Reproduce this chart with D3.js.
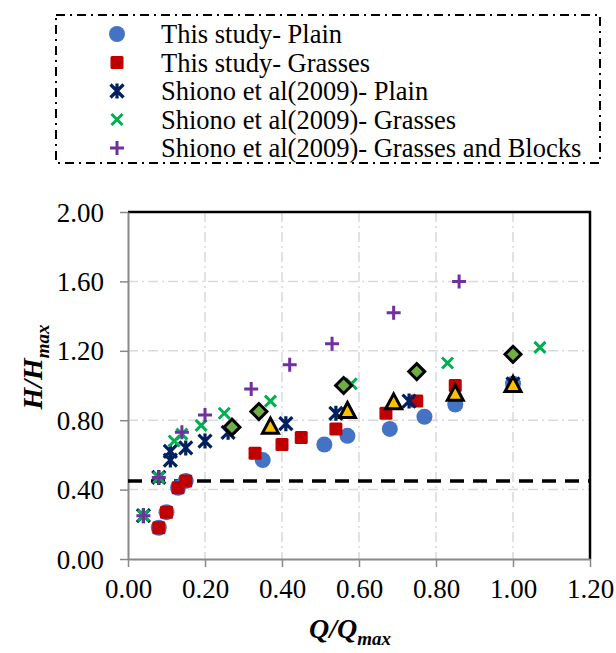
<!DOCTYPE html>
<html>
<head>
<meta charset="utf-8">
<script src="https://cdn.jsdelivr.net/npm/d3@7"></script>
<style>
  html, body { margin: 0; padding: 0; background: #fff; }
  svg { display: block; }
  svg text { font-family: "Liberation Serif", "Times New Roman", serif !important; fill: #000; }
</style>
</head>
<body>
<svg id="chart" width="616" height="653"></svg>
<script>
// Relative stage H/Hmax against relative discharge Q/Qmax
const plainX   = [0.08, 0.10, 0.13, 0.15, 0.35, 0.51, 0.57, 0.68, 0.77, 0.85, 1.00];
const plainY   = [0.18, 0.27, 0.41, 0.45, 0.57, 0.66, 0.71, 0.75, 0.82, 0.89, 1.01];

const grassX   = [0.08, 0.10, 0.13, 0.15, 0.33, 0.40, 0.45, 0.54, 0.67, 0.75, 0.85];
const grassY   = [0.18, 0.27, 0.41, 0.45, 0.61, 0.66, 0.70, 0.75, 0.84, 0.91, 1.00];

const shPlainX = [0.04, 0.08, 0.11, 0.11, 0.15, 0.20, 0.26, 0.41, 0.54, 0.73, 1.00];
const shPlainY = [0.25, 0.47, 0.57, 0.62, 0.64, 0.68, 0.73, 0.78, 0.84, 0.91, 1.01];

const shGrassX = [0.04, 0.08, 0.12, 0.14, 0.19, 0.25, 0.37, 0.58, 0.83, 1.07];
const shGrassY = [0.25, 0.47, 0.68, 0.72, 0.77, 0.84, 0.91, 1.01, 1.13, 1.22];

const shBlockX = [0.04, 0.08, 0.14, 0.20, 0.32, 0.42, 0.53, 0.69, 0.86];
const shBlockY = [0.25, 0.47, 0.73, 0.83, 0.98, 1.12, 1.24, 1.42, 1.60];

const diamondX = [0.27, 0.34, 0.56, 0.75, 1.00];
const diamondY = [0.76, 0.85, 1.00, 1.08, 1.18];

const triX     = [0.37, 0.57, 0.69, 0.85, 1.00];
const triY     = [0.76, 0.85, 0.90, 0.95, 1.00];

const thresholdY = 0.45;

const xTicks = [0.00, 0.20, 0.40, 0.60, 0.80, 1.00, 1.20];
const yTicks = [0.00, 0.40, 0.80, 1.20, 1.60, 2.00];

const legendLabels = [
  "This study- Plain",
  "This study- Grasses",
  "Shiono et al(2009)- Plain",
  "Shiono et al(2009)- Grasses",
  "Shiono et al(2009)- Grasses and Blocks"
];

const svg = d3.select("#chart");
const plotLeft = 128, plotRight = 590, plotTop = 212, plotBottom = 559;

const x = d3.scaleLinear().domain([0, 1.2]).range([plotLeft, plotRight]);
const y = d3.scaleLinear().domain([0, 2]).range([plotBottom, plotTop]);

const zip = (xs, ys) => xs.map((v, i) => [v, ys[i]]);

// gridlines
const grid = svg.append("g");
grid.selectAll("line.gx").data(xTicks.slice(1, -1)).join("line")
  .attr("x1", d => x(d)).attr("x2", d => x(d))
  .attr("y1", plotTop).attr("y2", plotBottom)
  .attr("stroke", "#d9d9d9").attr("stroke-width", 1.5)
  .attr("stroke-dasharray", "10 4 2 4");
grid.selectAll("line.gy").data(yTicks.slice(1, -1)).join("line")
  .attr("x1", plotLeft).attr("x2", plotRight)
  .attr("y1", d => y(d)).attr("y2", d => y(d))
  .attr("stroke", "#d9d9d9").attr("stroke-width", 1.5)
  .attr("stroke-dasharray", "10 4 2 4");

// top and right frame
svg.append("path")
  .attr("d", `M${plotLeft},${plotTop}H${plotRight}V${plotBottom}`)
  .attr("fill", "none").attr("stroke", "#000").attr("stroke-width", 2.5);

// axes
const xAxis = svg.append("g").attr("transform", `translate(0,${plotBottom})`)
  .call(d3.axisBottom(x).tickValues(xTicks).tickFormat(d3.format(".2f")).tickSizeOuter(0).tickSizeInner(8).tickPadding(12));
const yAxis = svg.append("g").attr("transform", `translate(${plotLeft},0)`)
  .call(d3.axisLeft(y).tickValues(yTicks).tickFormat(d3.format(".2f")).tickSizeOuter(0).tickSizeInner(8).tickPadding(16));
[xAxis, yAxis].forEach(g => {
  g.attr("font-family", null).attr("font-size", null);
  g.select(".domain").attr("stroke", "#888").attr("stroke-width", 2);
  g.selectAll(".tick line").attr("stroke", "#888").attr("stroke-width", 1.5);
  g.selectAll(".tick text")
    .style("font-family", "'Liberation Serif', 'Times New Roman', serif")
    .style("font-size", "27px").attr("fill", "#000");
});
yAxis.selectAll(".tick text").attr("dy", "0.34em");

// threshold line
svg.append("line")
  .attr("x1", plotLeft).attr("x2", plotRight)
  .attr("y1", y(thresholdY)).attr("y2", y(thresholdY))
  .attr("stroke", "#000").attr("stroke-width", 3.5)
  .attr("stroke-dasharray", "14 9");

// marker drawers
function circleMark(g, px, py) {
  g.append("circle").attr("cx", px).attr("cy", py).attr("r", 8).attr("fill", "#4472c4");
}
function squareMark(g, px, py) {
  g.append("rect").attr("x", px - 6.5).attr("y", py - 6.5).attr("width", 13).attr("height", 13)
    .attr("rx", 1.5).attr("fill", "#c00000");
}
function starMark(g, px, py) {
  const s = 6.5;
  g.append("path")
    .attr("d", `M${px - s},${py - s}L${px + s},${py + s}M${px - s},${py + s}L${px + s},${py - s}M${px},${py - s - 1}V${py + s + 1}`)
    .attr("stroke", "#002060").attr("stroke-width", 3.2).attr("fill", "none");
}
function xMark(g, px, py) {
  const s = 5.5;
  g.append("path")
    .attr("d", `M${px - s},${py - s}L${px + s},${py + s}M${px - s},${py + s}L${px + s},${py - s}`)
    .attr("stroke", "#00b050").attr("stroke-width", 3).attr("fill", "none");
}
function plusMark(g, px, py) {
  const s = 7;
  g.append("path")
    .attr("d", `M${px - s},${py}H${px + s}M${px},${py - s}V${py + s}`)
    .attr("stroke", "#7030a0").attr("stroke-width", 3).attr("fill", "none");
}
function diamondMark(g, px, py) {
  const s = 8;
  g.append("path")
    .attr("d", `M${px},${py - s}L${px + s},${py}L${px},${py + s}L${px - s},${py}Z`)
    .attr("fill", "#70ad47").attr("stroke", "#000").attr("stroke-width", 3).attr("stroke-linejoin", "miter");
}
function triMark(g, px, py) {
  const s = 8;
  g.append("path")
    .attr("d", `M${px},${py - s - 1}L${px + s},${py + s - 2}L${px - s},${py + s - 2}Z`)
    .attr("fill", "#ffc000").attr("stroke", "#000").attr("stroke-width", 3).attr("stroke-linejoin", "miter");
}

const series = [
  [plainX, plainY, circleMark],
  [grassX, grassY, squareMark],
  [shPlainX, shPlainY, starMark],
  [shGrassX, shGrassY, xMark],
  [shBlockX, shBlockY, plusMark],
  [diamondX, diamondY, diamondMark],
  [triX, triY, triMark]
];
const marks = svg.append("g");
series.forEach(([xs, ys, fn]) => {
  const g = marks.append("g");
  zip(xs, ys).forEach(([a, b]) => fn(g, x(a), y(b)));
});

// axis titles
const xt = svg.append("text")
  .attr("x", 350).attr("y", 638)
  .attr("text-anchor", "middle")
  .attr("font-weight", "bold").attr("font-style", "italic").attr("font-size", 28);
xt.append("tspan").text("Q/Q");
xt.append("tspan").attr("font-size", 19).attr("dy", 7).text("max");

const yt = svg.append("text")
  .attr("transform", "translate(42,367) rotate(-90)")
  .attr("text-anchor", "middle")
  .attr("font-weight", "bold").attr("font-style", "italic").attr("font-size", 28);
yt.append("tspan").text("H/H");
yt.append("tspan").attr("font-size", 19).attr("dy", 7).text("max");

// legend
svg.append("rect")
  .attr("x", 56).attr("y", 15).attr("width", 544).attr("height", 148)
  .attr("fill", "#fff").attr("stroke", "#000").attr("stroke-width", 2)
  .attr("stroke-dasharray", "9 5 2 5");
const legendDrawers = [circleMark, squareMark, starMark, xMark, plusMark];
const legendRowY = d3.scaleLinear().domain([0, 4]).range([34, 148]);
legendLabels.forEach((label, i) => {
  const g = svg.append("g");
  legendDrawers[i](g, 117, legendRowY(i));
  g.append("text").attr("x", 161).attr("y", legendRowY(i)).attr("dy", "0.35em")
    .attr("font-size", 26.5).text(label);
});
</script>
</body>
</html>
